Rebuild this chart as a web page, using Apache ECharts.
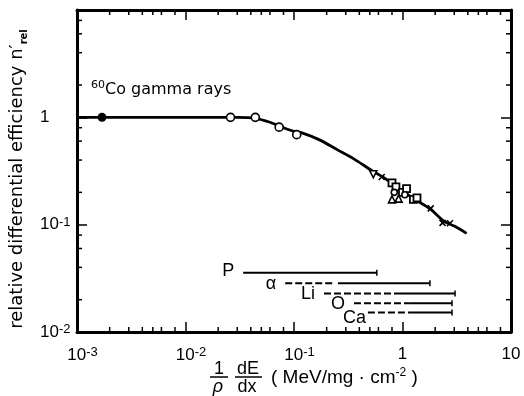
<!DOCTYPE html>
<html><head><meta charset="utf-8">
<script src="https://cdn.jsdelivr.net/npm/echarts@6/dist/echarts.min.js"></script>
<style>html,body{margin:0;padding:0;background:#fff}#c{width:524px;height:396px}</style>
</head><body><div id="c"></div>
<script>
// ---- main curve (relative differential efficiency vs stopping power) ----
const curveX = [0.001, 0.0017, 0.01, 0.022, 0.03, 0.044, 0.06, 0.08, 0.1, 0.122, 0.17, 0.25, 0.35, 0.52, 0.65, 0.82, 1.0, 1.3, 1.8, 2.4, 3.0, 3.9];
const curveY = [1.0, 1.0, 1.0, 1.0, 1.0, 0.98, 0.9, 0.8, 0.74, 0.71, 0.62, 0.5, 0.415, 0.32, 0.28, 0.238, 0.205, 0.172, 0.14, 0.108, 0.097, 0.083];

// ---- markers ----
const gammaX = [0.0017];
const gammaY = [1.0];
const openCircleX = [0.026, 0.044, 0.073, 0.106];
const openCircleY = [1.0, 1.0, 0.81, 0.69];
const triDownX = [0.538];
const triDownY = [0.295];
const crossX = [0.643, 1.82, 2.34, 2.74];
const crossY = [0.278, 0.142, 0.104, 0.103];
const squareX = [0.80, 0.87, 1.0, 1.09, 1.26, 1.36];
const squareY = [0.245, 0.225, 0.2, 0.217, 0.172, 0.178];
const triUpX = [0.80, 0.92];
const triUpY = [0.172, 0.175];
const smallCircleX = [0.84, 1.05];
const smallCircleY = [0.2, 0.19];

// ---- ion ranges ----
const ionNames = ['P', 'α', 'Li', 'O', 'Ca'];
const ionDashStart = [0, 0.083, 0.189, 0.357, 0.48];
const ionDashEnd = [0, 0.235, 0.89, 1.17, 1.2];
const ionSolidStart = [0.034, 0.254, 0.89, 1.17, 1.2];
const ionSolidEnd = [0.58, 1.79, 3.05, 2.86, 2.86];
const ionY = [0.0356, 0.0284, 0.0229, 0.0185, 0.0152];

// ---- axes ----
const xMin = 0.001, xMax = 10;
const yMin = 0.01, yMax = 10;
const xDecades = [0.001, 0.01, 0.1, 1];
const yDecades = [0.01, 0.1, 1];
const xMinorMultipliers = [2, 3, 4, 5, 6, 8];
const yMinorMultipliers = [2, 4, 6, 8];

const FONT = 'Liberation Sans, Arial, sans-serif';
const zip = (a, b) => a.map((v, i) => [v, b[i]]);

const minorData = [];
xDecades.forEach(d => xMinorMultipliers.forEach(m => minorData.push([d * m, yMin, 0])));
yDecades.forEach(d => yMinorMultipliers.forEach(m => minorData.push([xMin, d * m, 1])));

const ionData = ionNames.map((n, i) => [ionSolidStart[i], ionY[i], ionSolidEnd[i], ionDashStart[i], ionDashEnd[i]]);

function xLabel(v) {
  const e = Math.round(Math.log10(v));
  if (e === 0) return '1';
  if (e === 1) return '10';
  return '{p|}10{s|' + e + '}';
}
function yLabel(v) {
  const e = Math.round(Math.log10(v));
  if (e === 0) return '1';
  if (e === 1) return '';
  return '10{s|' + e + '}';
}

function renderMinor(params, api) {
  const cs = params.coordSys;
  const L = 5;
  const st = { stroke: '#000', lineWidth: 1.5 };
  if (api.value(2) === 0) {
    const px = api.coord([api.value(0), 1])[0];
    return { type: 'group', children: [
      { type: 'line', shape: { x1: px, y1: cs.y + cs.height, x2: px, y2: cs.y + cs.height - L }, style: st },
      { type: 'line', shape: { x1: px, y1: cs.y, x2: px, y2: cs.y + L }, style: st }
    ] };
  }
  const py = api.coord([1, api.value(1)])[1];
  return { type: 'group', children: [
    { type: 'line', shape: { x1: cs.x, y1: py, x2: cs.x + L, y2: py }, style: st },
    { type: 'line', shape: { x1: cs.x + cs.width, y1: py, x2: cs.x + cs.width - L, y2: py }, style: st }
  ] };
}

function renderIon(params, api) {
  const i = params.dataIndex;
  const y = api.coord([1, api.value(1)])[1];
  const xs = api.coord([api.value(0), 1])[0];
  const xe = api.coord([api.value(2), 1])[0];
  const ds = api.value(3), de = api.value(4);
  const children = [];
  let leftX = xs;
  if (ds > 0) {
    const xds = api.coord([ds, 1])[0];
    const xde = api.coord([de, 1])[0];
    children.push({ type: 'line', shape: { x1: xds, y1: y, x2: xde, y2: y }, style: { stroke: '#000', lineWidth: 2, lineDash: [7, 3] } });
    leftX = xds;
  }
  children.push({ type: 'line', shape: { x1: xs, y1: y, x2: xe, y2: y }, style: { stroke: '#000', lineWidth: 2 } });
  children.push({ type: 'line', shape: { x1: xe, y1: y - 3, x2: xe, y2: y + 3 }, style: { stroke: '#000', lineWidth: 1.5 } });
  const dy = ionNames[i] === 'Ca' ? 6 : (ionNames[i] === 'P' ? -2 : 1);
  const gap = ionNames[i] === 'Ca' ? 2 : 9;
  children.push({ type: 'text', x: leftX - gap, y: y + dy, style: { text: ionNames[i], fill: '#000', font: '18px ' + FONT, textAlign: 'right', textVerticalAlign: 'middle' } });
  return { type: 'group', children };
}

const chart = echarts.init(document.getElementById('c'), null, { renderer: 'canvas' });
const axisLineStyle = { show: true, lineStyle: { color: '#000', width: 3 } };
const tickStyle = { show: true, inside: true, length: 10, lineStyle: { color: '#000', width: 1.5 } };
const markerStyle = { color: '#fff', borderColor: '#000', borderWidth: 1.6, opacity: 1 };

chart.setOption({
  animation: false,
  backgroundColor: '#fff',
  grid: { left: 77, right: 13, top: 10, bottom: 64, containLabel: false, outerBoundsMode: 'none' },
  xAxis: [
    { type: 'log', logBase: 10, min: xMin, max: xMax, position: 'bottom',
      axisLine: axisLineStyle, axisTick: tickStyle, splitLine: { show: false },
      axisLabel: { show: true, margin: 14, color: '#000', fontFamily: FONT, fontSize: 17, formatter: xLabel,
        rich: { s: { fontSize: 13, fontFamily: FONT, color: '#000', verticalAlign: 'top', lineHeight: 18 }, p: { width: 11 } } } },
    { type: 'log', logBase: 10, min: xMin, max: xMax, position: 'top',
      axisLine: axisLineStyle, axisTick: tickStyle, splitLine: { show: false }, axisLabel: { show: false } }
  ],
  yAxis: [
    { type: 'log', logBase: 10, min: yMin, max: yMax, position: 'left',
      axisLine: axisLineStyle, axisTick: tickStyle, splitLine: { show: false },
      axisLabel: { show: true, margin: 37, align: 'left', color: '#000', fontFamily: FONT, fontSize: 17, formatter: yLabel,
        rich: { s: { fontSize: 13, fontFamily: FONT, color: '#000', verticalAlign: 'top', lineHeight: 18 } } } },
    { type: 'log', logBase: 10, min: yMin, max: yMax, position: 'right',
      axisLine: axisLineStyle, axisTick: tickStyle, splitLine: { show: false }, axisLabel: { show: false } }
  ],
  series: [
    { type: 'custom', name: 'minorTicks', renderItem: renderMinor, data: minorData, silent: true, z: 5, clip: false },
    { type: 'line', name: 'curve', data: zip(curveX, curveY), smooth: 0.3, showSymbol: false, symbol: 'none',
      lineStyle: { color: '#000', width: 2.8 }, z: 2 },
    { type: 'scatter', name: 'gamma', data: zip(gammaX, gammaY), symbol: 'circle', symbolSize: 9,
      itemStyle: { color: '#000', opacity: 1 }, z: 4 },
    { type: 'scatter', name: 'open', data: zip(openCircleX, openCircleY), symbol: 'circle', symbolSize: 8,
      itemStyle: markerStyle, z: 4 },
    { type: 'scatter', name: 'triDown', data: zip(triDownX, triDownY), symbol: 'triangle', symbolRotate: 180, symbolSize: 7,
      itemStyle: markerStyle, z: 4 },
    { type: 'scatter', name: 'triUp', data: zip(triUpX, triUpY), symbol: 'triangle', symbolSize: 7,
      itemStyle: markerStyle, z: 4 },
    { type: 'scatter', name: 'square', data: zip(squareX, squareY), symbol: 'rect', symbolSize: 7,
      itemStyle: { color: '#fff', borderColor: '#000', borderWidth: 1.8, opacity: 1 }, z: 4 },
    { type: 'scatter', name: 'smallCircle', data: zip(smallCircleX, smallCircleY), symbol: 'circle', symbolSize: 6,
      itemStyle: markerStyle, z: 4 },
    { type: 'scatter', name: 'cross', data: zip(crossX, crossY), symbol: 'path://M0,0 L10,10 M10,0 L0,10', symbolSize: 6,
      itemStyle: { color: 'none', borderColor: '#000', borderWidth: 1.6, opacity: 1 }, z: 4 },
    { type: 'custom', name: 'ions', renderItem: renderIon, data: ionData, encode: { x: 0, y: 1 }, silent: true, z: 3, clip: false }
  ],
  graphic: [
    { type: 'text', x: 91, y: 80, style: {
        text: '{s|60}{b|Co gamma rays}', fill: '#000', textVerticalAlign: 'top',
        rich: { s: { fontSize: 11, fontFamily: 'DejaVu Sans', verticalAlign: 'top', lineHeight: 18 },
                b: { fontSize: 16, fontFamily: 'DejaVu Sans', verticalAlign: 'bottom', lineHeight: 18 } } } },
    { type: 'text', x: 17, y: 179, rotation: Math.PI / 2, style: {
        text: '{t|relative differential efficiency n′}{r|rel}', fill: '#000', textAlign: 'center', textVerticalAlign: 'middle',
        rich: { t: { fontSize: 18, fontFamily: 'DejaVu Sans', lineHeight: 24, verticalAlign: 'middle' },
                r: { fontSize: 10, fontWeight: 'bold', fontFamily: 'DejaVu Sans', lineHeight: 24, verticalAlign: 'bottom' } } } },
    // x axis title: (1/ρ)(dE/dx) (MeV/mg·cm-2)
    { type: 'text', x: 219, y: 369, style: { text: '1', font: '18px ' + FONT, fill: '#000', textAlign: 'center', textVerticalAlign: 'middle' } },
    { type: 'line', shape: { x1: 210, y1: 377, x2: 228, y2: 377 }, style: { stroke: '#000', lineWidth: 1.5 } },
    { type: 'text', x: 218, y: 387, style: { text: 'ρ', font: 'italic 18px ' + FONT, fill: '#000', textAlign: 'center', textVerticalAlign: 'middle' } },
    { type: 'text', x: 248, y: 369, style: { text: 'dE', font: '18px ' + FONT, fill: '#000', textAlign: 'center', textVerticalAlign: 'middle' } },
    { type: 'line', shape: { x1: 235, y1: 377, x2: 262, y2: 377 }, style: { stroke: '#000', lineWidth: 1.5 } },
    { type: 'text', x: 247, y: 387, style: { text: 'dx', font: '18px ' + FONT, fill: '#000', textAlign: 'center', textVerticalAlign: 'middle' } },
    { type: 'text', x: 271, y: 378, style: {
        text: '( MeV/mg · cm{s|-2} )', fill: '#000', textAlign: 'left', textVerticalAlign: 'middle',
        font: '19px ' + FONT,
        rich: { s: { fontSize: 12, fontFamily: FONT, verticalAlign: 'top', lineHeight: 22 } } } }
  ]
});
</script></body></html>
